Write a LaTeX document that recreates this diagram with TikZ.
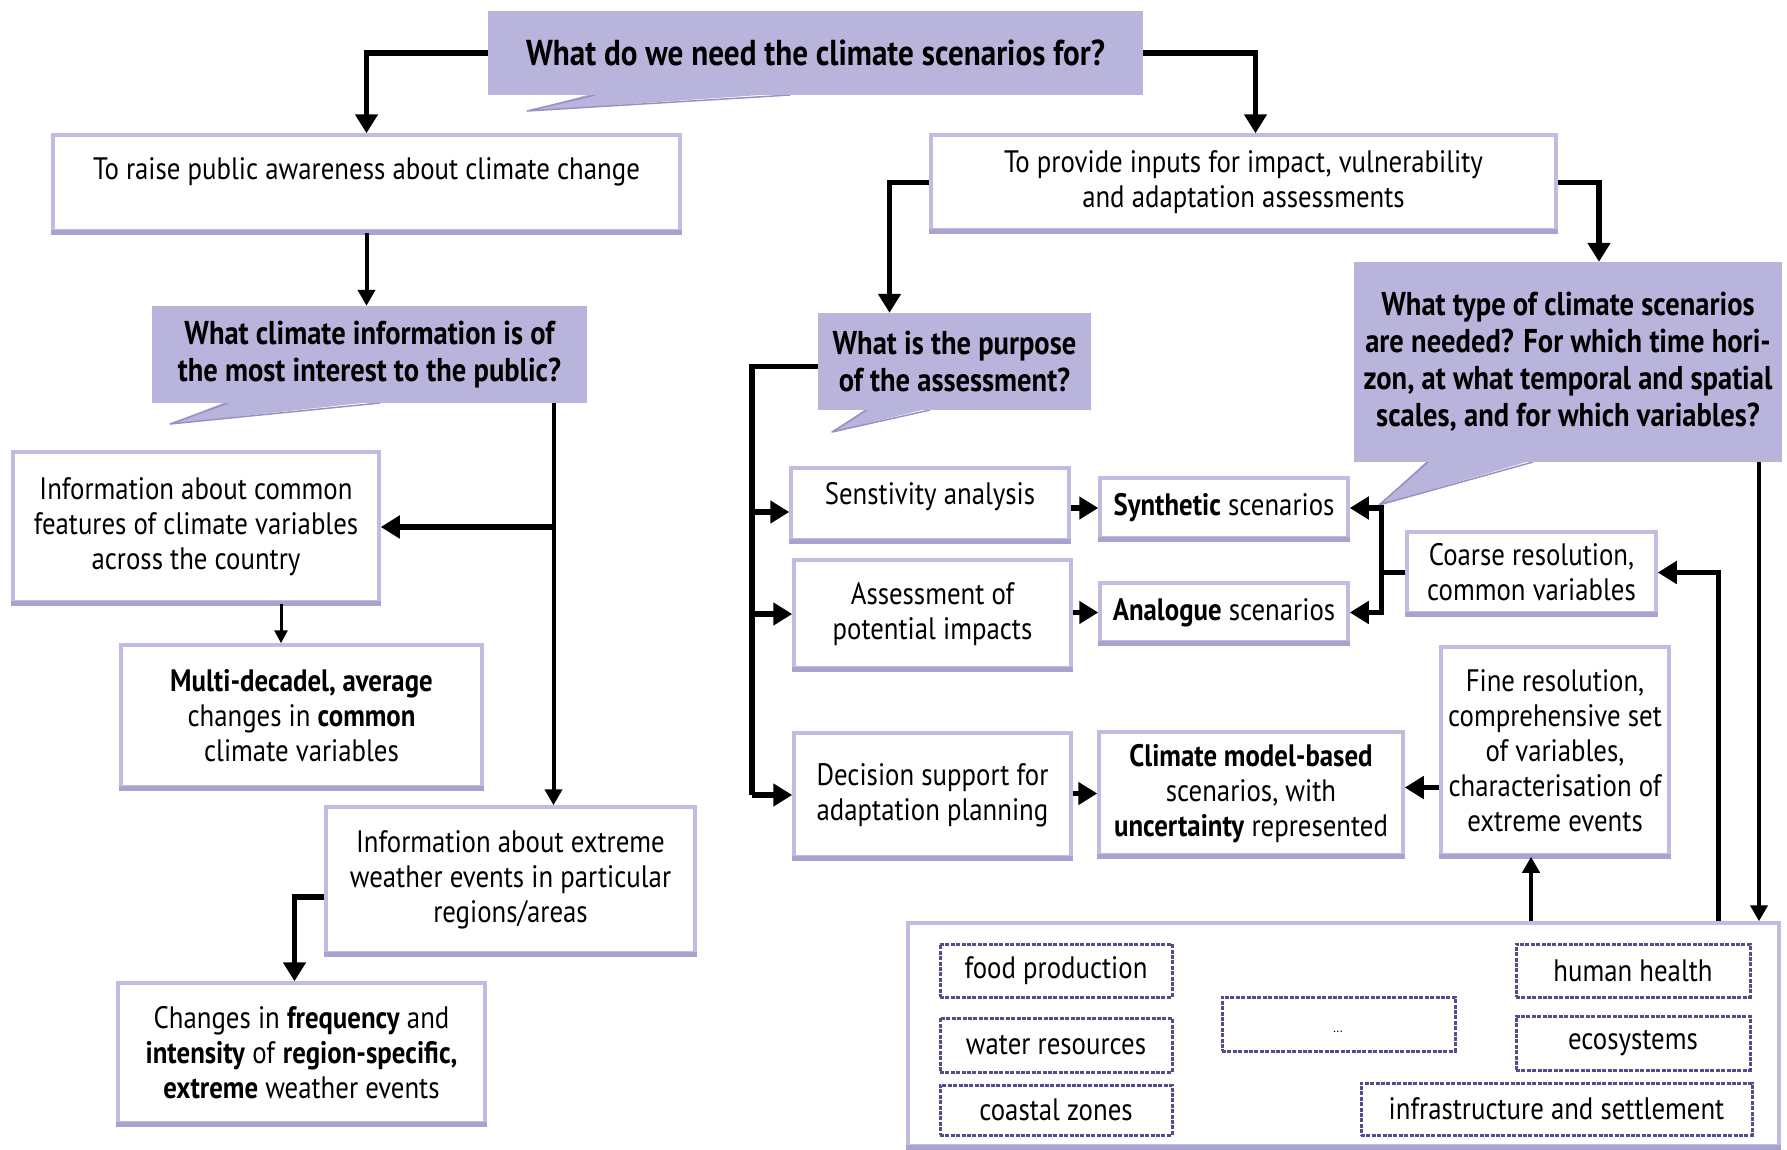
\documentclass[tikz,border=0pt]{standalone}
\usepackage{fontspec}
\setmainfont{PT Sans}[FakeStretch=0.865]
\usetikzlibrary{arrows.meta,calc}

\definecolor{lav}{RGB}{184,180,219}
\definecolor{lavedge}{RGB}{150,145,195}
\definecolor{boxline}{RGB}{192,189,226}
\definecolor{boxfootcol}{RGB}{168,164,208}
\definecolor{dashline}{RGB}{84,76,140}

\newcommand\bodyfont{\fontsize{31}{35}\selectfont}
\newcommand\askfont{\fontsize{33}{37}\selectfont\bfseries}
\newcommand\titlefont{\fontsize{36}{40}\selectfont\bfseries}

% \panel[style]{name}{x1}{y1}{x2}{y2}{text}: a box given by its corners
\newcommand\panel[7][box]{%
  \node[#1, minimum width={(#5-#3)*1pt}, minimum height={(#6-#4)*1pt}]
    (#2) at ({(#3+#5)/2},{(#4+#6)/2}) {#7};}

\begin{document}
\begin{tikzpicture}[x=1pt, y=-1pt,
  box/.style={draw=boxline, line width=3.5pt, fill=white, inner sep=0pt,
    align=center, font=\bodyfont},
  ask/.style={fill=lav, inner sep=0pt, align=center, font=\askfont},
  sector/.style={draw=dashline, line width=3pt, dash pattern=on 4pt off 1.4pt,
    fill=white, inner sep=0pt, align=center, font=\bodyfont},
  txt/.style={inner sep=0pt, align=center, font=\bodyfont},
  boxfoot/.style={draw=boxfootcol, line width=5pt},
  tailedge/.style={draw=lavedge, line width=1.5pt, line join=round},
  link/.style={line width=5.5pt},
  conn/.style={line width=5.5pt, -{Triangle[length=19pt,width=22pt]}},
  connthin/.style={line width=4pt, -{Triangle[length=16pt,width=17pt]}},
  connfine/.style={line width=3pt, -{Triangle[length=13pt,width=13pt]}},
]
\useasboundingbox (0,0) rectangle (1787,1149);
\fill[white] (0,0) rectangle (1787,1149);

% speech-bubble tails of the question boxes
\fill[lav] (595,93) -- (527,111) -- (790,93) -- cycle;
\draw[tailedge] (595,95) -- (527,111) -- (790,95);
\fill[lav] (228,401) -- (170,424) -- (380,401) -- cycle;
\draw[tailedge] (228,403) -- (170,424) -- (380,403);
\fill[lav] (867,408) -- (832,432) -- (930,408) -- cycle;
\draw[tailedge] (867,410) -- (832,432) -- (930,410);
\fill[lav] (1428,460) -- (1379,505) -- (1533,460) -- cycle;
\draw[tailedge] (1428,462) -- (1379,505) -- (1533,462);

% questions
\panel[ask]{Q1}{488}{11}{1143}{95}{\titlefont What do we need the climate scenarios for?}
\panel[ask]{Q2}{152}{306}{587}{403}{What climate information is of\\the most interest to the public?}
\panel[ask]{Q3}{818}{313}{1091}{410}{What is the purpose\\of the assessment?}
\panel[ask]{Q4}{1354}{262}{1782}{462}{What type of climate scenarios\\are needed? For which time hori-\\zon, at what temporal and spatial\\scales, and for which variables?}

% public awareness branch
\panel{A}{53}{135}{680}{231}{}
\node[txt] (A-t) at (366.5,172) {To raise public awareness about climate change};
\panel{C}{13}{452}{379}{602}{Information about common\\features of climate variables\\across the country}
\panel{D}{121}{645}{482}{787}{\textbf{Multi-decadel, average}\\changes in \textbf{common}\\climate variables}
\panel{E}{326}{807}{695}{953}{Information about extreme\\weather events in particular\\regions/areas}
\panel{F}{118}{983}{485}{1123}{Changes in \textbf{frequency} and\\\textbf{intensity} of \textbf{region-specific,}\\\textbf{extreme} weather events}

% assessment branch
\panel{B}{931}{135}{1556}{230}{To provide inputs for impact, vulnerability\\and adaptation assessments}
\panel{S}{791}{468}{1069}{540}{}
\node[txt] (S-t) at (930,497) {Senstivity analysis};
\panel{As}{794}{560}{1071}{668}{Assessment of\\potential impacts}
\panel{Dc}{794}{733}{1071}{857}{Decision support for\\adaptation planning}
\panel{Sy}{1100}{478}{1348}{538}{\textbf{Synthetic} scenarios}
\panel{An}{1100}{583}{1348}{642}{\textbf{Analogue} scenarios}
\panel{Co}{1407}{532}{1656}{613}{Coarse resolution,\\common variables}
\panel{Fi}{1441}{647}{1669}{855}{Fine resolution,\\comprehensive set\\of variables,\\characterisation of\\extreme events}
\panel{Cm}{1099}{732}{1403}{855}{\textbf{Climate model-based}\\scenarios, with\\\textbf{uncertainty} represented}

% sectors
\panel{Bot}{908}{923}{1779}{1146}{}
\panel[sector]{s1}{940}{944}{1172}{997}{food production}
\panel[sector]{s2}{940}{1018}{1172}{1072}{water resources}
\panel[sector]{s3}{940}{1085}{1172}{1135}{coastal zones}
\panel[sector]{s4}{1222}{997}{1455}{1051}{}
\node[txt] (s4-t) at (1338,1032) {\fontsize{14}{14}\selectfont ...};
\panel[sector]{s5}{1516}{944}{1750}{997}{human health}
\panel[sector]{s6}{1516}{1016}{1750}{1070}{ecosystems}
\panel[sector]{s7}{1361}{1083}{1752}{1135}{infrastructure and settlement}

% heavier lower edge of the plain boxes
\foreach \n in {A,B,C,D,E,F,S,As,Dc,Sy,An,Co,Fi,Cm,Bot}
  \draw[boxfoot] (\n.south west) -- (\n.south east);

% connectors: top question
\draw[conn] (Q1.west) -| (A.north);
\draw[conn] (Q1.east) -| ([xshift=12pt]B.north);

% connectors: public awareness branch
\draw[connthin] (A.south) -- (A.south |- Q2.north);
\coordinate (q2o) at ([xshift=184pt]Q2.south);
\draw[connthin] (q2o) -- (q2o |- E.north);
\draw[conn] (q2o |- C.east) -- (C.east);
\coordinate (cdo) at ([xshift=85pt]C.south);
\draw[connfine] (cdo) -- (cdo |- D.north);
\draw[conn] ([yshift=-17pt]E.west) -| ([xshift=-7pt]F.north);

% connectors: assessment branch
\draw[conn] (B.west) -| ([xshift=-65pt]Q3.north);
\draw[conn] (B.east) -| ([xshift=31pt]Q4.north);
\draw[link] ([yshift=-5pt]Q3.west) -- ++(-66,0) coordinate (qb) -- (qb |- Dc.west);
\coordinate (sin) at ([yshift=-8pt]S.west);
\draw[conn] (qb |- sin) -- (sin);
\draw[conn] (qb |- As.west) -- (As.west);
\draw[conn] (qb |- Dc.west) -- (Dc.west);
\draw[conn] (S.east |- Sy.west) -- (Sy.west);
\draw[conn] (As.east |- An.west) -- (An.west);
\draw[conn] (Dc.east |- Cm.west) -- (Cm.west);
\coordinate (cmin) at ([yshift=6pt]Cm.east);
\draw[conn] (Fi.west |- cmin) -- (cmin);
\draw[link] (Co.west) -- ++(-24,0) coordinate (cb);
\draw[conn] (cb) |- (Sy.east);
\draw[conn] (cb) |- (An.east);

% connectors: sectors and scenario types
\coordinate (q4o) at ([xshift=191pt]Q4.south);
\draw[connthin] (q4o) -- (q4o |- Bot.north);
\draw[conn] ([xshift=375pt]Bot.north) |- (Co.east);
\coordinate (fiu) at ([xshift=-24pt]Fi.south);
\draw[connthin] (fiu |- Bot.north) -- (fiu);
\end{tikzpicture}
\end{document}
